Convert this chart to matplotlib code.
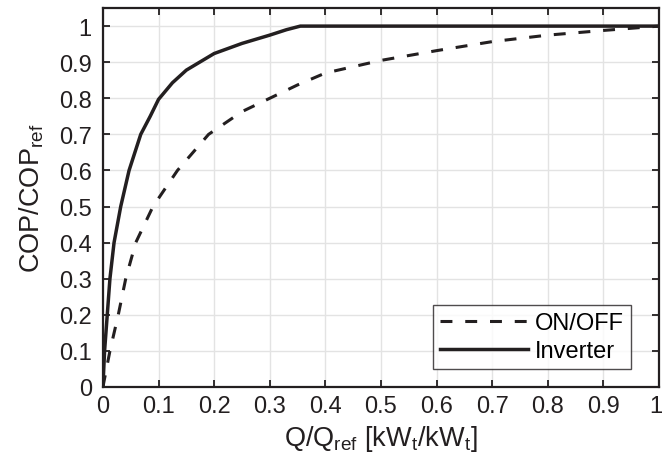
import numpy as np
import matplotlib
matplotlib.use("Agg")
import matplotlib.pyplot as plt
import matplotlib.transforms as mtransforms
from matplotlib.ticker import FuncFormatter

plt.rcParams['font.family'] = ['Liberation Sans', 'DejaVu Sans']
plt.rcParams['mathtext.default'] = 'regular'

# values
onoff_x = [0, 0.0126, 0.0276, 0.041, 0.059, 0.09, 0.134, 0.19, 0.25, 0.3,
           0.35, 0.4, 0.5, 0.6, 0.7, 0.8, 0.9, 1.0]
onoff_y = [0, 0.1, 0.2, 0.3, 0.4, 0.5, 0.6, 0.7, 0.763, 0.80,
           0.837, 0.870, 0.905, 0.932, 0.957, 0.975, 0.988, 1.0]

inv_x = [0, 0.003, 0.0078, 0.0126, 0.02, 0.032, 0.047, 0.068, 0.085, 0.1,
         0.125, 0.15, 0.2, 0.25, 0.3, 0.33, 0.355, 1.0]
inv_y = [0, 0.1, 0.2, 0.3, 0.4, 0.5, 0.6, 0.7, 0.75, 0.797,
         0.843, 0.878, 0.924, 0.952, 0.975, 0.99, 1.0, 1.0]

ticks = np.round(np.arange(0, 1.01, 0.1), 1)
ink = '#231f20'
fs = 17
lfs = 19.5

fig = plt.figure(figsize=(6.64, 4.77), dpi=100)
ax = fig.add_axes([0.155, 0.1866, 0.8375, 0.7944])

ax.plot(onoff_x, onoff_y, color=ink, lw=2.2, dashes=(3.9, 4.2),
        label='ON/OFF')
ax.plot(inv_x, inv_y, color=ink, lw=2.5, label='Inverter')

ax.set_xlim(0, 1)
ax.set_ylim(0, 1.05)
ax.set_xticks(ticks)
ax.set_yticks(ticks)
fmt = FuncFormatter(lambda v, p: '%g' % v)
ax.xaxis.set_major_formatter(fmt)
ax.yaxis.set_major_formatter(fmt)
ax.grid(True, color='#e3e3e3', lw=1.0)
ax.set_axisbelow(True)
ax.tick_params(direction='in', length=5, width=1.3, top=True, right=True,
               labelsize=fs, colors=ink)
ax.tick_params(axis='x', pad=6)
ax.tick_params(axis='y', pad=8)
for s in ax.spines.values():
    s.set_linewidth(1.6)
    s.set_color(ink)

# last x tick label sits on the figure edge, nudge it in a little
lbl = ax.get_xticklabels()[-1]
lbl.set_transform(lbl.get_transform() +
                  mtransforms.ScaledTranslation(-3 / 100, 0, fig.dpi_scale_trans))

ax.set_xlabel('Q/Q$_{ref}$ [kW$_t$/kW$_t$]', fontsize=lfs, color=ink,
              labelpad=4)
ax.set_ylabel('COP/COP$_{ref}$', fontsize=lfs, color=ink, labelpad=9)

leg = ax.legend(loc='lower right', bbox_to_anchor=(0.9496, 0.0475), fontsize=fs,
                frameon=True, fancybox=False, handlelength=3.7,
                borderpad=0.3, labelspacing=0.25, handletextpad=0.3,
                borderaxespad=0)
leg.get_frame().set_edgecolor(ink)
leg.get_frame().set_linewidth(1.0)

fig.savefig('out.png', dpi=100)
